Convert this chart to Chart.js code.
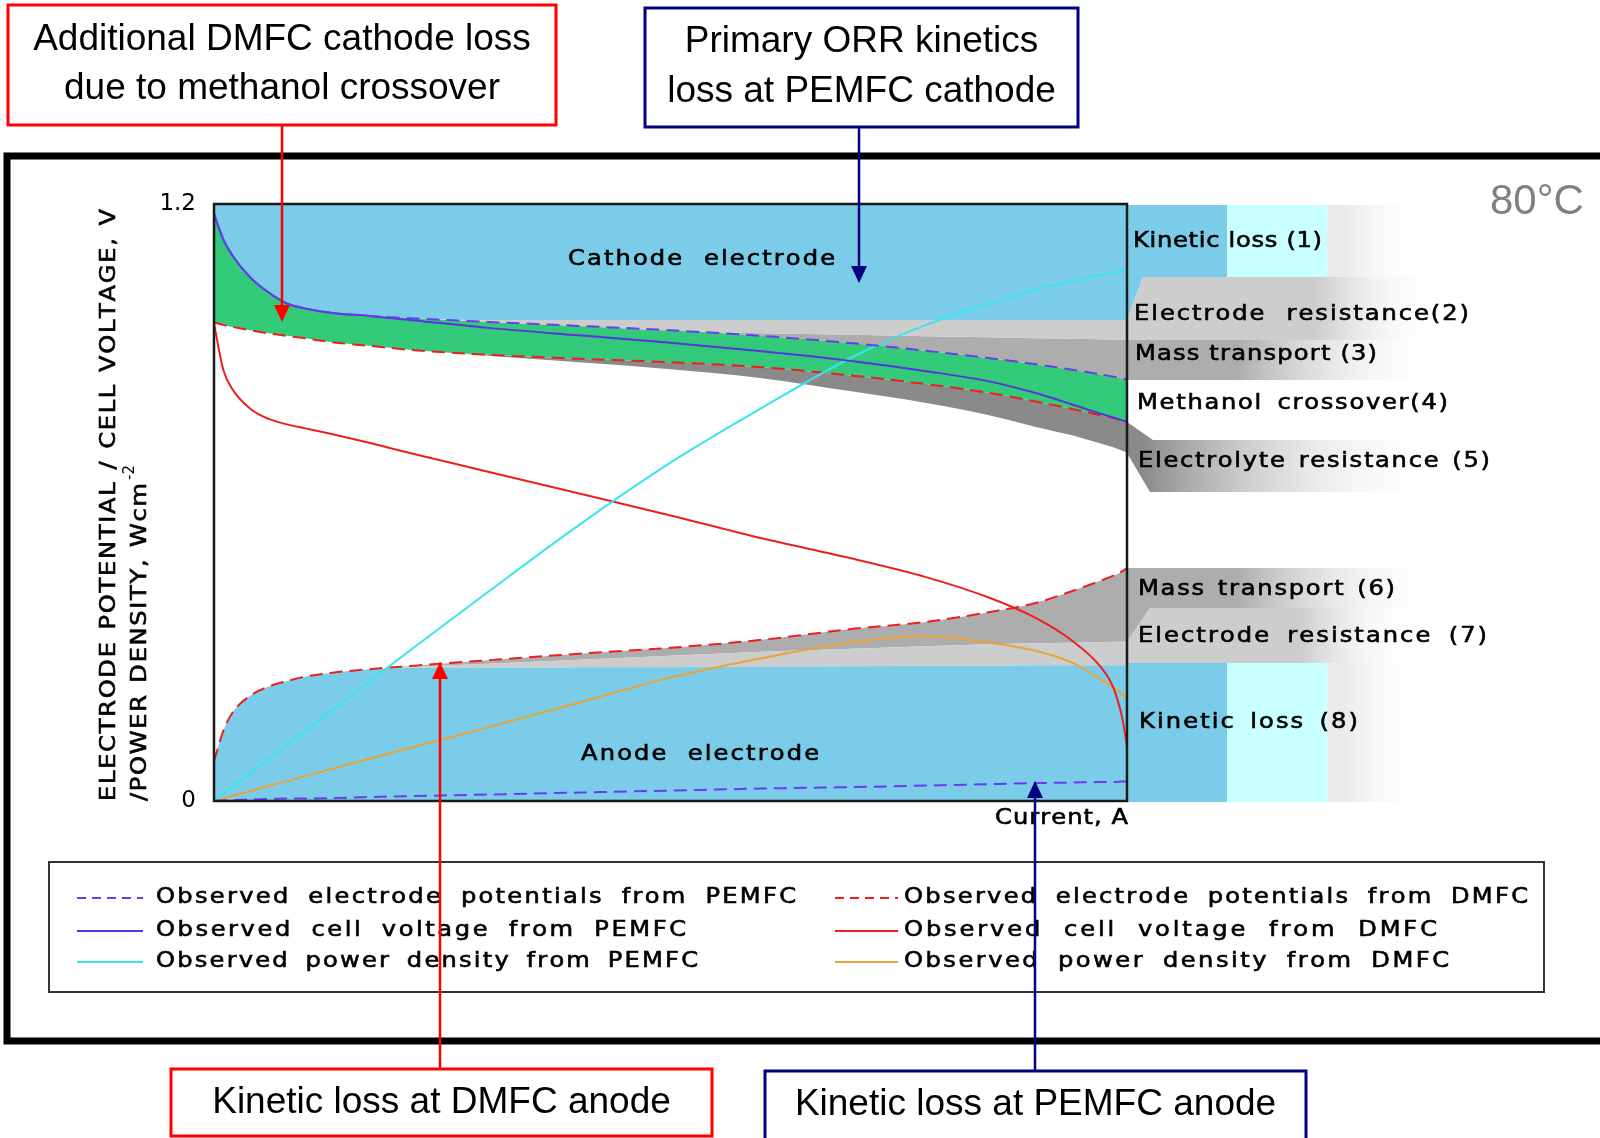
<!DOCTYPE html>
<html>
<head>
<meta charset="utf-8">
<script src="https://cdn.jsdelivr.net/npm/chart.js@4.4.1/dist/chart.umd.min.js"></script>
<style>
  html, body { margin: 0; padding: 0; background: #fff; }
  #wrap { width: 1600px; height: 1138px; }
</style>
</head>
<body>
<div id="wrap"><canvas id="fuelChart" width="1600" height="1138"></canvas></div>
<script>
// current (normalised, 0..1) shared by every curve
const current = [0, 0.01, 0.02, 0.04, 0.06, 0.08, 0.1, 0.13, 0.17, 0.22, 0.3, 0.4, 0.5, 0.6, 0.7, 0.78, 0.85, 0.9, 0.94, 0.97, 0.985, 0.995, 1.0];

// observed curves
const pemCathode  = [1.18, 1.13, 1.097, 1.052, 1.022, 1.0, 0.99, 0.981, 0.975, 0.97, 0.963, 0.955, 0.946, 0.935, 0.92, 0.905, 0.89, 0.878, 0.867, 0.858, 0.853, 0.849, 0.847];
const pemCell     = [1.18, 1.13, 1.097, 1.052, 1.022, 1.0, 0.99, 0.981, 0.975, 0.966, 0.951, 0.936, 0.921, 0.904, 0.884, 0.864, 0.843, 0.82, 0.797, 0.779, 0.771, 0.765, 0.762];
const pemAnode    = [0, 0.001, 0.002, 0.003, 0.004, 0.005, 0.005, 0.006, 0.008, 0.01, 0.013, 0.017, 0.021, 0.025, 0.028, 0.031, 0.034, 0.036, 0.037, 0.038, 0.038, 0.039, 0.039];
const pemPower    = [0, 0.014, 0.028, 0.057, 0.085, 0.113, 0.141, 0.183, 0.24, 0.31, 0.42, 0.555, 0.68, 0.79, 0.893, 0.957, 1.0, 1.028, 1.045, 1.057, 1.062, 1.065, 1.067];
const dmfcCathode = [0.962, 0.957, 0.953, 0.946, 0.94, 0.935, 0.93, 0.922, 0.915, 0.906, 0.897, 0.889, 0.882, 0.872, 0.855, 0.838, 0.82, 0.803, 0.788, 0.776, 0.77, 0.765, 0.762];
const dmfcAnode   = [0.08, 0.14, 0.177, 0.212, 0.23, 0.241, 0.25, 0.258, 0.265, 0.272, 0.283, 0.296, 0.308, 0.324, 0.346, 0.36, 0.38, 0.398, 0.422, 0.442, 0.453, 0.462, 0.468];
const dmfcCell    = [0.96, 0.868, 0.828, 0.788, 0.768, 0.757, 0.749, 0.737, 0.72, 0.697, 0.662, 0.618, 0.574, 0.528, 0.487, 0.45, 0.408, 0.368, 0.322, 0.272, 0.228, 0.165, 0.11];
const dmfcPower   = [0, 0.005, 0.01, 0.02, 0.03, 0.04, 0.05, 0.065, 0.085, 0.109, 0.148, 0.198, 0.248, 0.287, 0.319, 0.331, 0.318, 0.302, 0.278, 0.246, 0.228, 0.214, 0.207];

// edges of the shaded loss regions
const cathodeKineticEdge = [1.18, 1.13, 1.097, 1.052, 1.022, 1.0, 0.99, 0.981, 0.975, 0.97, 0.967, 0.967, 0.967, 0.967, 0.967, 0.967, 0.967, 0.967, 0.967, 0.967, 0.967, 0.967, 0.967];
const cathodeOhmicEdge   = [1.18, 1.13, 1.097, 1.052, 1.022, 1.0, 0.99, 0.981, 0.975, 0.97, 0.963, 0.955, 0.945, 0.94, 0.937, 0.934, 0.932, 0.93, 0.929, 0.928, 0.927, 0.927, 0.927];
const electrolyteEdge    = [0.962, 0.957, 0.953, 0.946, 0.94, 0.935, 0.93, 0.922, 0.915, 0.906, 0.895, 0.882, 0.868, 0.85, 0.823, 0.8, 0.775, 0.752, 0.735, 0.719, 0.711, 0.704, 0.70];
const anodeKineticEdge   = [0.08, 0.14, 0.177, 0.212, 0.23, 0.241, 0.25, 0.258, 0.265, 0.268, 0.268, 0.269, 0.269, 0.27, 0.271, 0.272, 0.272, 0.273, 0.273, 0.273, 0.273, 0.273, 0.273];
const anodeOhmicEdge     = [0.08, 0.14, 0.177, 0.212, 0.23, 0.241, 0.25, 0.258, 0.265, 0.27, 0.276, 0.284, 0.292, 0.3, 0.306, 0.311, 0.315, 0.317, 0.318, 0.319, 0.32, 0.32, 0.32];

const yTicks = [0, 1.2];
const yTickLabels = ['0', '1.2'];

const BLUE = '#7BCCE8', CYAN = '#C8FFFF', GREEN = '#33CB79';
const LGRAY = '#CDCDCD', MGRAY = '#ADADAD', DGRAY = '#8A8A8A';
const PURPLE_D = '#6A3CF0', PURPLE = '#5A34DC', RED = '#EE1F1F', AQUA = '#3AE4EE', ORANGE = '#E9A33A';
const WIDE = '"DejaVu Sans", sans-serif';

function pts(ys) {
  return current.map((x, i) => ({ x: x, y: ys[i] }));
}

function curve(label, ys, color, dashed, slot) {
  return {
    label: label, data: pts(ys), borderColor: color, borderWidth: 2,
    borderDash: dashed ? [13, 7] : [], pointRadius: 0, fill: false,
    cubicInterpolationMode: 'monotone', legendSlot: slot
  };
}

function edge(ys, fill, color) {
  return {
    label: '', data: pts(ys), borderColor: 'rgba(0,0,0,0)', borderWidth: 0,
    pointRadius: 0, fill: fill, backgroundColor: color, cubicInterpolationMode: 'monotone'
  };
}

// wide lettering of the original: stretched glyphs, spare room shared by letters and word gaps
function spaced(ctx, text, x, y, width) {
  const sx = 1.15, ls = 1.5;
  const chars = [...text];
  let natural = ls * (chars.length - 1);
  chars.forEach(ch => { natural += ctx.measureText(ch).width * sx; });
  const nSpaces = chars.filter(c => c === ' ').length;
  const rest = width - natural;
  let perSpace = 0, perChar = 0;
  if (rest > 0 && nSpaces) {
    perSpace = rest * 0.5 / nSpaces;
    perChar = rest * 0.5 / Math.max(1, chars.length - 1);
  } else {
    perChar = rest / Math.max(1, chars.length - 1);
  }
  ctx.textAlign = 'left';
  ctx.lineWidth = 0.6;
  ctx.strokeStyle = ctx.fillStyle;
  let cx = x;
  for (const ch of chars) {
    const w = ctx.measureText(ch).width * sx;
    if (ch !== ' ') {
      ctx.save();
      ctx.translate(cx, y);
      ctx.scale(sx, 1);
      ctx.fillText(ch, 0, 0);
      ctx.strokeText(ch, 0, 0);
      ctx.restore();
    }
    cx += w + ls + perChar + (ch === ' ' ? perSpace : 0);
  }
}

function arrow(ctx, x, y0, y1, color) {
  const dir = Math.sign(y1 - y0);
  ctx.save();
  ctx.strokeStyle = color;
  ctx.fillStyle = color;
  ctx.lineWidth = 2.5;
  ctx.setLineDash([]);
  ctx.beginPath();
  ctx.moveTo(x, y0);
  ctx.lineTo(x, y1 - dir * 14);
  ctx.stroke();
  ctx.beginPath();
  ctx.moveTo(x, y1);
  ctx.lineTo(x - 8, y1 - dir * 17);
  ctx.lineTo(x + 8, y1 - dir * 17);
  ctx.closePath();
  ctx.fill();
  ctx.restore();
}

function noteBox(ctx, x0, y0, x1, y1, color, lines, ys) {
  ctx.save();
  ctx.fillStyle = '#fff';
  ctx.fillRect(x0, y0, x1 - x0, y1 - y0);
  ctx.strokeStyle = color;
  ctx.lineWidth = 3;
  ctx.setLineDash([]);
  ctx.strokeRect(x0, y0, x1 - x0, y1 - y0);
  ctx.fillStyle = '#000';
  ctx.font = '37px "Liberation Sans", Arial, sans-serif';
  ctx.textAlign = 'center';
  ctx.textBaseline = 'middle';
  lines.forEach((t, i) => ctx.fillText(t, (x0 + x1) / 2, ys[i]));
  ctx.restore();
}

function band(ctx, poly, x0, x1, color, fadeStart) {
  const g = ctx.createLinearGradient(x0, 0, x1, 0);
  g.addColorStop(0, color);
  g.addColorStop(fadeStart, color);
  g.addColorStop(1, 'rgba(255,255,255,0)');
  ctx.fillStyle = g;
  ctx.beginPath();
  poly.forEach((p, i) => i ? ctx.lineTo(p[0], p[1]) : ctx.moveTo(p[0], p[1]));
  ctx.closePath();
  ctx.fill();
}

const figurePlugin = {
  id: 'figure',
  beforeDraw(chart) {
    const ctx = chart.ctx;
    ctx.save();
    ctx.fillStyle = '#fff';
    ctx.fillRect(0, 0, chart.width, chart.height);
    ctx.strokeStyle = '#000';
    ctx.lineWidth = 7;
    ctx.strokeRect(7, 156, 1610, 885);

    const R = chart.chartArea.right;
    // cathode side key bands
    ctx.fillStyle = BLUE;
    ctx.beginPath();
    ctx.moveTo(R, 205); ctx.lineTo(R + 100, 205); ctx.lineTo(R + 100, 277);
    ctx.lineTo(R + 16, 277); ctx.lineTo(R, 320); ctx.closePath(); ctx.fill();
    ctx.fillStyle = CYAN;
    ctx.fillRect(R + 100, 205, 100, 72);
    band(ctx, [[R + 200, 205], [R + 300, 205], [R + 300, 277], [R + 200, 277]], R + 200, R + 300, '#EBEBEB', 0.2);
    band(ctx, [[R, 320], [R + 16, 277], [R + 315, 277], [R + 315, 340], [R, 340]], R, R + 315, LGRAY, 0.6);
    band(ctx, [[R, 340], [R + 315, 340], [R + 315, 380], [R, 380]], R, R + 315, MGRAY, 0.35);
    band(ctx, [[R, 422], [R + 26, 440], [R + 315, 440], [R + 315, 492], [R + 23, 492], [R, 453]], R, R + 315, DGRAY, 0.05);
    // anode side key bands
    band(ctx, [[R, 568], [R + 315, 568], [R + 315, 608], [R + 23, 608], [R, 642]], R, R + 315, MGRAY, 0.35);
    band(ctx, [[R, 642], [R + 23, 608], [R + 290, 608], [R + 290, 663], [R, 663]], R, R + 290, LGRAY, 0.6);
    ctx.fillStyle = BLUE;
    ctx.fillRect(R, 663, 100, 139);
    ctx.fillStyle = CYAN;
    ctx.fillRect(R + 100, 663, 100, 139);
    band(ctx, [[R + 200, 663], [R + 300, 663], [R + 300, 802], [R + 200, 802]], R + 200, R + 300, '#EBEBEB', 0.2);
    ctx.restore();
  },
  afterDatasetsDraw(chart) {
    const ctx = chart.ctx;
    const a = chart.chartArea;
    ctx.save();
    ctx.strokeStyle = '#1a1a1a';
    ctx.lineWidth = 2.5;
    ctx.setLineDash([]);
    ctx.strokeRect(a.left, a.top, a.right - a.left, a.bottom - a.top);
    ctx.fillStyle = '#000';
    ctx.font = '21px ' + WIDE;
    ctx.textBaseline = 'middle';
    spaced(ctx, 'Cathode electrode', 568, 260, 267);
    spaced(ctx, 'Anode electrode', 581, 755, 238);
    ctx.restore();
  },
  afterDraw(chart) {
    const ctx = chart.ctx;
    const a = chart.chartArea;
    ctx.save();
    ctx.fillStyle = '#000';
    ctx.textBaseline = 'middle';

    // y-axis title, rotated
    ctx.font = '21px ' + WIDE;
    ctx.save();
    ctx.translate(110, a.bottom);
    ctx.rotate(-Math.PI / 2);
    spaced(ctx, 'ELECTRODE POTENTIAL / CELL VOLTAGE, V', 0, 0, 592);
    ctx.restore();
    ctx.save();
    ctx.translate(141, a.bottom);
    ctx.rotate(-Math.PI / 2);
    spaced(ctx, '/POWER DENSITY, Wcm', 0, 0, 318);
    ctx.font = '15px ' + WIDE;
    ctx.fillText('-2', 321, -11);
    ctx.restore();

    ctx.font = '21px ' + WIDE;
    spaced(ctx, 'Current, A', 995, 819, 133);

    // key labels on the right
    const keys = [
      ['Kinetic loss (1)', 1133, 242, 189],
      ['Electrode resistance(2)', 1134, 315, 335],
      ['Mass transport (3)', 1135, 355, 242],
      ['Methanol crossover(4)', 1137, 404, 311],
      ['Electrolyte resistance (5)', 1138, 462, 352],
      ['Mass transport (6)', 1138, 590, 257],
      ['Electrode resistance (7)', 1138, 637, 349],
      ['Kinetic loss (8)', 1139, 723, 219]
    ];
    keys.forEach(k => spaced(ctx, k[0], k[1], k[2], k[3]));

    // legend box built from the datasets
    ctx.strokeStyle = '#333';
    ctx.lineWidth = 2;
    ctx.strokeRect(49, 862, 1495, 130);
    const rowsY = [898, 931, 962];
    const colSample = [[77, 143], [835, 898]];
    const colText = [156, 904];
    const widths = [[640, 530, 542], [624, 533, 545]];
    chart.data.datasets.forEach(ds => {
      if (!ds.legendSlot) return;
      const c = ds.legendSlot[0], r = ds.legendSlot[1];
      ctx.strokeStyle = ds.borderColor;
      ctx.lineWidth = 2;
      ctx.setLineDash(ds.borderDash.length ? [9, 6] : []);
      ctx.beginPath();
      ctx.moveTo(colSample[c][0], rowsY[r]);
      ctx.lineTo(colSample[c][1], rowsY[r]);
      ctx.stroke();
      ctx.setLineDash([]);
      ctx.fillStyle = '#000';
      spaced(ctx, ds.label, colText[c], rowsY[r], widths[c][r]);
    });

    ctx.fillStyle = '#808080';
    ctx.font = '42px "Liberation Sans", Arial, sans-serif';
    ctx.textAlign = 'left';
    ctx.fillText('80°C', 1490, 202);

    // call-out boxes and arrows
    noteBox(ctx, 8, 5, 556, 125, '#FF0000', ['Additional DMFC cathode loss', 'due to methanol crossover'], [40, 89]);
    noteBox(ctx, 645, 8, 1078, 127, '#000080', ['Primary ORR kinetics', 'loss at PEMFC cathode'], [42, 92]);
    noteBox(ctx, 171, 1069, 712, 1136, '#FF0000', ['Kinetic loss at DMFC anode'], [1103]);
    noteBox(ctx, 765, 1071, 1306, 1140, '#000080', ['Kinetic loss at PEMFC anode'], [1105]);
    arrow(ctx, 282, 125, 322, '#FF0000');
    arrow(ctx, 859, 127, 283, '#000080');
    arrow(ctx, 440, 1069, 662, '#FF0000');
    arrow(ctx, 1035, 1071, 781, '#000080');
    ctx.restore();
  }
};

const datasets = [
  curve('Observed electrode potentials from PEMFC', pemCathode, PURPLE_D, true, [0, 0]),
  curve('', pemAnode, PURPLE_D, true, null),
  curve('Observed cell voltage from PEMFC', pemCell, PURPLE, false, [0, 1]),
  curve('Observed power density from PEMFC', pemPower, AQUA, false, [0, 2]),
  curve('Observed electrode potentials from DMFC', dmfcCathode, RED, true, [1, 0]),
  curve('', dmfcAnode, RED, true, null),
  curve('Observed cell voltage from DMFC', dmfcCell, RED, false, [1, 1]),
  curve('Observed power density from DMFC', dmfcPower, ORANGE, false, [1, 2]),
  edge(cathodeKineticEdge, 'end', BLUE),   // 8
  edge(cathodeOhmicEdge, 8, LGRAY),        // 9
  edge(pemCathode, 9, MGRAY),              // 10
  edge(dmfcCathode, 10, GREEN),            // 11
  edge(electrolyteEdge, 11, DGRAY),        // 12
  edge(anodeKineticEdge, 'origin', BLUE),  // 13
  edge(anodeOhmicEdge, 13, LGRAY),         // 14
  edge(dmfcAnode, 14, MGRAY)               // 15
];

const fuelChart = new Chart(document.getElementById('fuelChart'), {
  type: 'line',
  data: { datasets: datasets },
  options: {
    responsive: false,
    animation: false,
    devicePixelRatio: 1,
    layout: { padding: { left: 154, right: 473, top: 204, bottom: 337 } },
    plugins: { legend: { display: false }, tooltip: { enabled: false }, filler: { propagate: false } },
    scales: {
      x: { type: 'linear', min: 0, max: 1, display: false },
      y: {
        min: 0, max: 1.2,
        grid: { display: false },
        border: { display: false },
        afterFit: s => { s.width = 60; },
        afterBuildTicks: s => { s.ticks = yTicks.map(v => ({ value: v })); },
        ticks: {
          color: '#000', padding: 10,
          font: { family: 'DejaVu Sans', size: 23 },
          callback: v => yTickLabels[yTicks.indexOf(v)]
        }
      }
    }
  },
  plugins: [figurePlugin]
});
</script>
</body>
</html>
